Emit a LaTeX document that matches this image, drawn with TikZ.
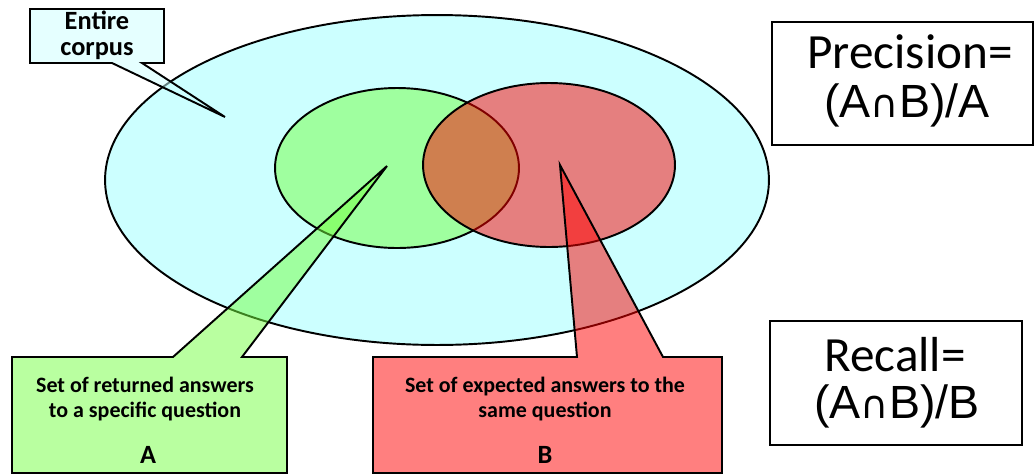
\documentclass[tikz,border=0pt]{standalone}
\usepackage{fontspec}
\setmainfont{Carlito}
\newfontfamily\formulafont{Liberation Sans}
\newfontfamily\capfont{DejaVu Sans}
\definecolor{corpus}{HTML}{CCFFFF}
\definecolor{setA}{HTML}{74FF41}
\definecolor{setB}{HTML}{FF0000}
\newcommand{\capsign}{{\capfont\fontsize{22}{22}\selectfont ∩}}
\begin{document}
\begin{tikzpicture}[x=0.02cm,y=-0.02cm,line join=miter,
  outline/.style={draw=black,line width=1.1pt},
  callout/.style={outline,fill opacity=0.5},
  tag/.style={font=\fontsize{12.5}{14.2}\selectfont\bfseries,align=center},
  setname/.style={font=\fontsize{15}{16}\selectfont\bfseries},
  formula/.style={font=\fontsize{28}{34}\selectfont},
  ratio/.style={font=\formulafont\fontsize{26.5}{30}\selectfont}]
\useasboundingbox (0,0) rectangle (1035,474);
% the three sets
\draw[outline,fill=corpus] (437,180) ellipse [x radius=6.64cm,y radius=3.3cm];
\draw[outline,fill=setA,fill opacity=0.5] (397,168) ellipse [x radius=2.44cm,y radius=1.6cm];
\draw[outline,fill=setB,fill opacity=0.5] (549,165) ellipse [x radius=2.52cm,y radius=1.64cm];
% callout tips
\coordinate (tipC) at (225,117);
\coordinate (tipA) at (387,166);
\coordinate (tipB) at (560,165);
\draw[callout,fill=corpus] (30,9) -- (164,9) -- (164,63) -- (142,63) -- (tipC) -- (112,63) -- (30,63) -- cycle;
\draw[callout,fill=setA] (12,357) -- (173,357) -- (tipA) -- (242,357) -- (287,357) -- (287,473) -- (12,473) -- cycle;
\draw[callout,fill=setB] (373,357) -- (577,357) -- (tipB) -- (663,357) -- (722,357) -- (722,473) -- (373,473) -- cycle;
\node[tag,font=\fontsize{15}{14.7}\selectfont\bfseries] (corpus) at (97,35) {Entire\\corpus};
\node[tag] (textA) at (145,399) {Set of returned answers\\to a specific question};
\node[setname] (nameA) at (148,455) {A};
\node[tag] (textB) at (545,399) {Set of expected answers to the\\same question};
\node[setname] (nameB) at (545,455) {B};
% measures
\draw[line width=1pt] (772,22) rectangle (1033,145);
\draw[line width=1pt] (770,321) rectangle (1022,445);
\node[formula] (precision) at (910,52) {Precision=};
\node[ratio] (precisionfrac) at (907,105) {(A\capsign B)/A};
\node[formula] (recall) at (895,355) {Recall=};
\node[ratio] (recallfrac) at (897,406) {(A\capsign B)/B};
\end{tikzpicture}
\end{document}
